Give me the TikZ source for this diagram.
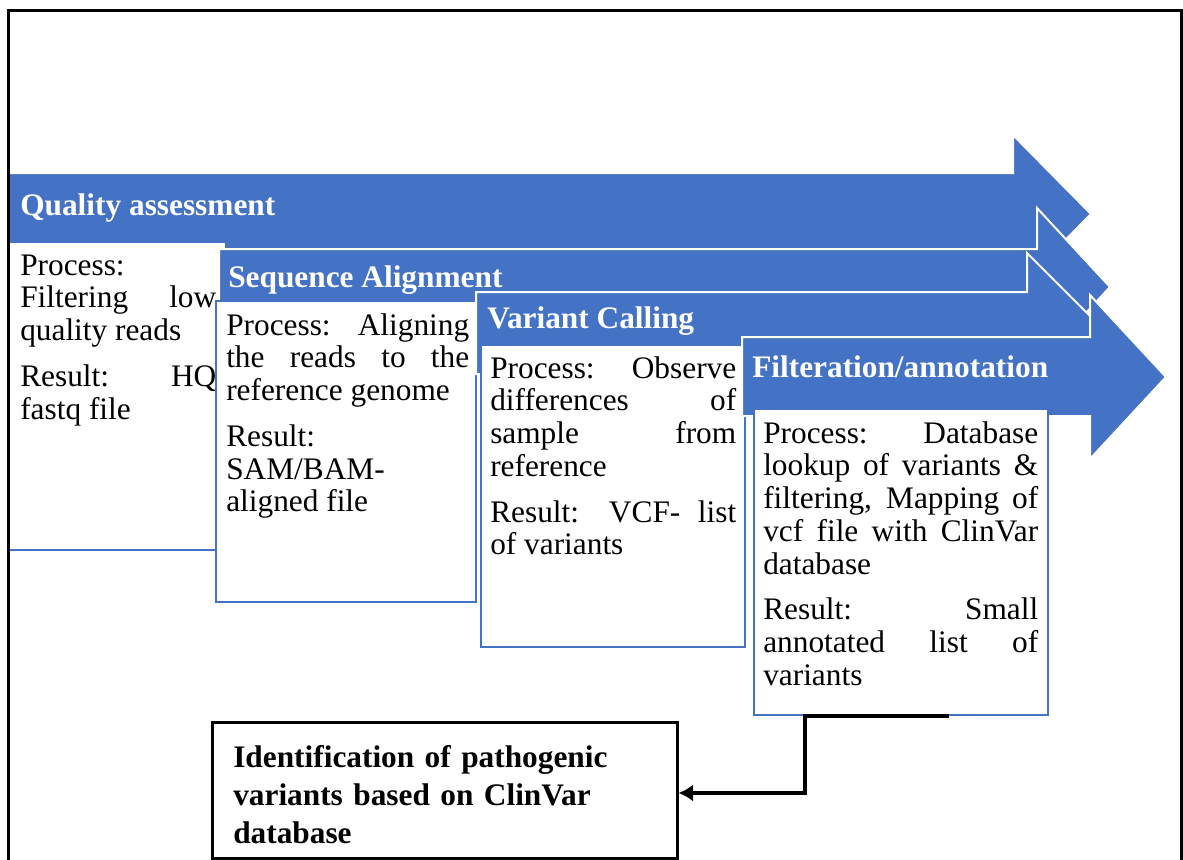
\documentclass[tikz,border=0pt]{standalone}
\usepackage{fontspec}
\setmainfont{Liberation Serif}
\usetikzlibrary{arrows.meta,fit}

\definecolor{stepblue}{RGB}{68,114,196}

\begin{document}
\begin{tikzpicture}[x=0.75pt,y=0.75pt,yscale=-1,xscale=1,
  stepArrow/.style={fill=stepblue, draw=white, line width=1.5pt, line join=miter},
  stepBox/.style={draw=stepblue, fill=white, line width=1.5pt, inner sep=0pt},
  stepTitle/.style={anchor=base west, inner sep=0pt, text=white, font=\fontsize{23.5}{28}\selectfont\bfseries},
  stepText/.style={anchor=base west, inner sep=0pt, align=justify,
    font=\fontsize{23.5}{24.6}\selectfont,
    execute at begin node={\setlength{\parskip}{9.6pt}\tolerance=10000\hbadness=10000\hyphenpenalty=10000\exhyphenpenalty=10000}},
  resultBox/.style={draw=black, line width=2.25pt, inner sep=0pt},
  flowLine/.style={draw=black, line width=3.3pt, -{Latex[length=11pt,width=13pt]}}]
\useasboundingbox (0,0) rectangle (1183,860);

%Shape: Right Arrow [Quality assessment]
\draw [stepArrow] (8,173) -- (1013,173) -- (1013,135) -- (1091,214) -- (1013,293) -- (1013,255) -- (8,255) -- cycle ;
% Text Node
\node [stepTitle] (qaTitle) at (20,215) {Quality assessment};
%Shape: Rectangle
\node [stepBox, fit={(8,242) (226,550)}] (qaBox) {};
% Text Node
\node [stepText, text width=147pt] (qaText) at (20,275) {Process:\newline Filtering low\linebreak quality reads\par Result: HQ\linebreak fastq file};

%Shape: Right Arrow [Sequence Alignment]
\draw [stepArrow] (219,249) -- (1037,249) -- (1037,208) -- (1110,287) -- (1037,366) -- (1037,325) -- (219,325) -- cycle ;
% Text Node
\node [stepTitle] (alignTitle) at (228,287) {Sequence Alignment};
%Shape: Rectangle
\node [stepBox, fit={(216,301) (476,602)}] (alignBox) {};
% Text Node
\node [stepText, text width=182.25pt] (alignText) at (226,335) {Process: Aligning\linebreak the reads to the\linebreak reference genome\par Result:\newline SAM/BAM-\newline aligned file};

%Shape: Right Arrow [Variant Calling]
\draw [stepArrow] (476,292) -- (1027,292) -- (1027,253) -- (1107,333) -- (1027,413) -- (1027,374) -- (476,374) -- cycle ;
% Text Node
\node [stepTitle] (callTitle) at (487,328) {Variant Calling};
%Shape: Rectangle
\node [stepBox, fit={(481,345) (745,647)}] (callBox) {};
% Text Node
\node [stepText, text width=184.5pt] (callText) at (490,378) {Process: Observe\linebreak differences of\linebreak sample from\linebreak reference\par Result: VCF- list\linebreak of variants};

%Shape: Right Arrow [Filteration/annotation]
\draw [stepArrow] (742,337) -- (1090,337) -- (1090,295) -- (1166,377) -- (1090,459) -- (1090,416) -- (742,416) -- cycle ;
% Text Node
\node [stepTitle] (filtTitle) at (752,377) {Filteration/annotation};
%Shape: Rectangle
\node [stepBox, fit={(754,409) (1048,715)}] (filtBox) {};
% Text Node
\node [stepText, text width=206.25pt] (filtText) at (763,443) {Process: Database\linebreak lookup of variants \&\linebreak filtering, Mapping of\linebreak vcf file with ClinVar\linebreak database\par Result: Small\linebreak annotated list of\linebreak variants};

%Shape: Rectangle [result]
\node [resultBox, fit={(212,722) (677,858)}] (ident) {};
% Text Node
\node [anchor=base west, inner sep=0pt, text width=330pt, align=left, font=\fontsize{23.5}{28.5}\selectfont\bfseries] (identText) at (233,767) {Identification of pathogenic\\ variants based on ClinVar\\ database};

%Connector
\coordinate (tap) at ([xshift=36pt]filtBox.south);
\coordinate (bend) at (805,793);
\draw [flowLine] (tap) -| (bend) -- (bend -| ident.east);

%Frame
\draw [line width=2.25pt] (8.5,875) -- (8.5,10.5) -- (1181.5,10.5) -- (1181.5,875);
\end{tikzpicture}
\end{document}
